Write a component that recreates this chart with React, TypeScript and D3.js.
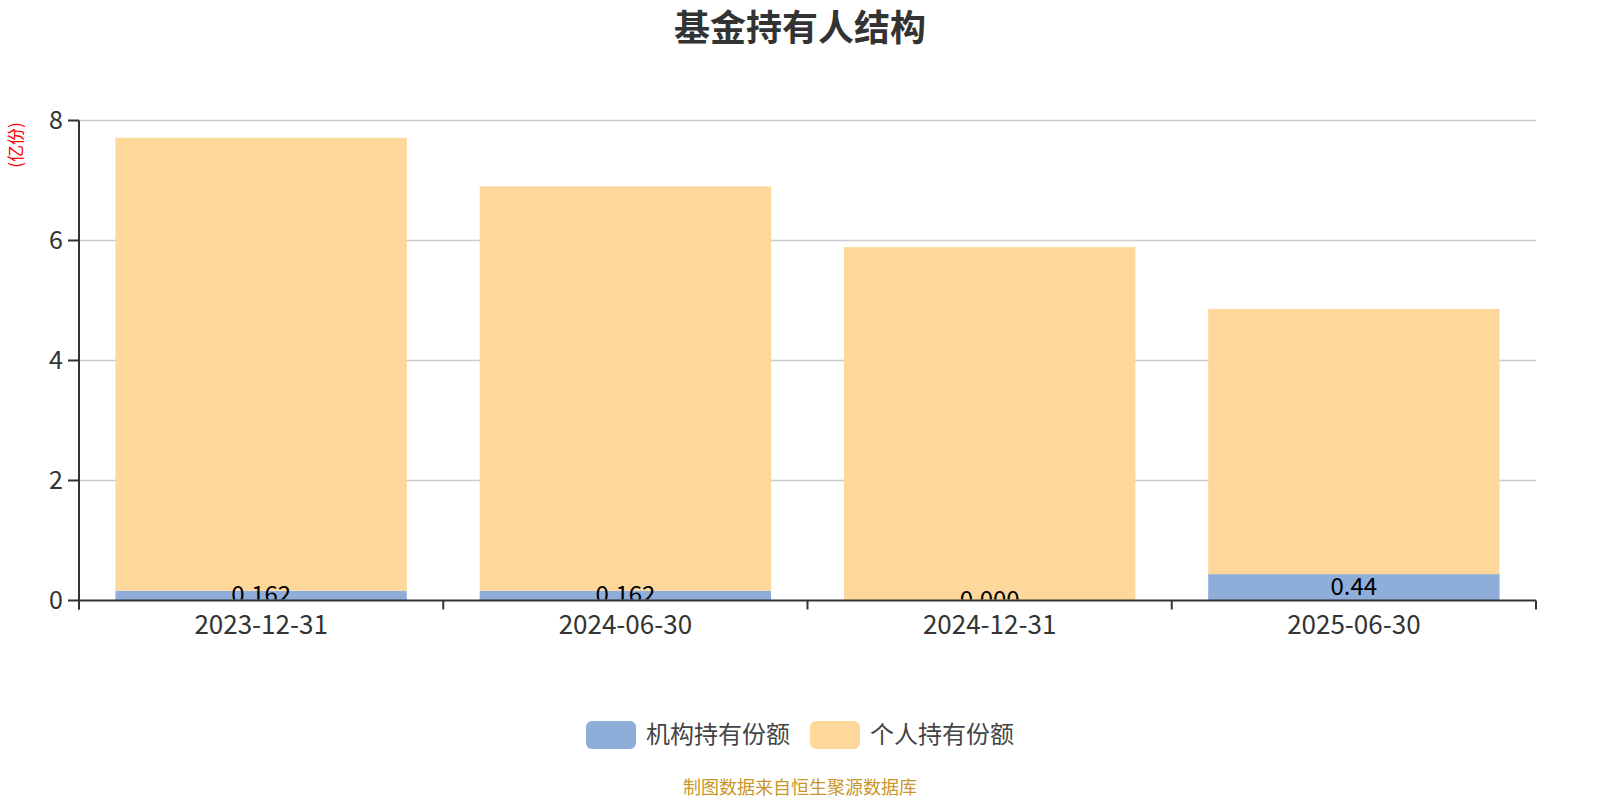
import React from "react";
import * as d3 from "d3";

const categories = ["2023-12-31", "2024-06-30", "2024-12-31", "2025-06-30"];
const institutional = [0.162, 0.162, 0.0, 0.44];
const institutionalLabels = ["0.162", "0.162", "0.000", "0.44"];
const individual = [7.55, 6.74, 5.89, 4.42];
const yTicks = [0, 2, 4, 6, 8];
const seriesNames = ["机构持有份额", "个人持有份额"];
const seriesColors = ["#8eadd9", "#fed89b"];

const W = 1600;
const H = 800;
const left = 79;
const right = 1536;
const top = 120.5;
const bottom = 600.5;
const FONT = "'Noto Sans CJK SC', 'Noto Sans', sans-serif";

export default function App() {
  const x = d3.scaleBand<string>().domain(categories).range([left, right]).paddingInner(0.2).paddingOuter(0.1);
  const y = d3.scaleLinear().domain([0, 8]).range([bottom, top]);
  const step = x.step();
  const boundaries = d3.range(categories.length + 1).map((i) => left + i * step);

  return (
    <svg width={W} height={H} style={{ position: "absolute", left: 0, top: 0, background: "#fff" }} fontFamily={FONT}>
      <defs>
        <clipPath id="plotClip">
          <rect x={left} y={0} width={right - left} height={bottom - 1} />
        </clipPath>
      </defs>
      <text x={800} y={41} textAnchor="middle" fontSize={36} fontWeight="bold" fill="#333">
        基金持有人结构
      </text>
      <text transform={`translate(22,145) rotate(-90)`} textAnchor="middle" fontSize={17} fill="#ff0000">
        (亿份)
      </text>
      {yTicks.slice(1).map((t) => (
        <line key={t} x1={left} x2={right} y1={y(t)} y2={y(t)} stroke="#cccccc" strokeWidth={1.5} />
      ))}
      {categories.map((c, i) => {
        const x0 = x(c)!;
        const bw = x.bandwidth();
        const y0 = y(0);
        const y1 = y(institutional[i]);
        const y2 = y(institutional[i] + individual[i]);
        return (
          <g key={c}>
            <rect x={x0} y={y1} width={bw} height={y0 - y1} fill={seriesColors[0]} />
            <rect x={x0} y={y2} width={bw} height={y1 - y2} fill={seriesColors[1]} />
          </g>
        );
      })}
      <g clipPath="url(#plotClip)">
        {categories.map((c, i) => {
          const cx = x(c)! + x.bandwidth() / 2;
          const cy = (y(0) + y(institutional[i])) / 2;
          return (
            <text key={c} x={cx} y={cy} dy="0.3em" textAnchor="middle" fontSize={24} fill="#000">
              {institutionalLabels[i]}
            </text>
          );
        })}
      </g>
      {/* y axis */}
      <line x1={left} x2={left} y1={top} y2={bottom + 9} stroke="#333" strokeWidth={2} />
      {yTicks.map((t) => (
        <g key={t}>
          <line x1={left - 11} x2={left} y1={y(t)} y2={y(t)} stroke="#333" strokeWidth={2} />
          <text x={left - 16} y={y(t)} dy="0.35em" textAnchor="end" fontSize={25} fill="#333">
            {t}
          </text>
        </g>
      ))}
      {/* x axis */}
      <line x1={left} x2={right} y1={bottom} y2={bottom} stroke="#333" strokeWidth={2} />
      {boundaries.map((b, i) => (
        <line key={i} x1={b} x2={b} y1={bottom} y2={bottom + 9} stroke="#333" strokeWidth={2} />
      ))}
      {categories.map((c) => (
        <text key={c} x={x(c)! + x.bandwidth() / 2} y={634} textAnchor="middle" fontSize={26} fill="#333">
          {c}
        </text>
      ))}
      {/* legend */}
      {(() => {
        const items = [
          { name: seriesNames[0], color: seriesColors[0], x: 586 },
          { name: seriesNames[1], color: seriesColors[1], x: 810 },
        ];
        return items.map((it) => (
          <g key={it.name}>
            <rect x={it.x} y={721} width={50} height={28} rx={6} fill={it.color} />
            <text x={it.x + 60} y={735} dy="0.35em" fontSize={24} fill="#444">
              {it.name}
            </text>
          </g>
        ));
      })()}
      <text x={800} y={794} textAnchor="middle" fontSize={18} fill="#c9962b">
        制图数据来自恒生聚源数据库
      </text>
    </svg>
  );
}
